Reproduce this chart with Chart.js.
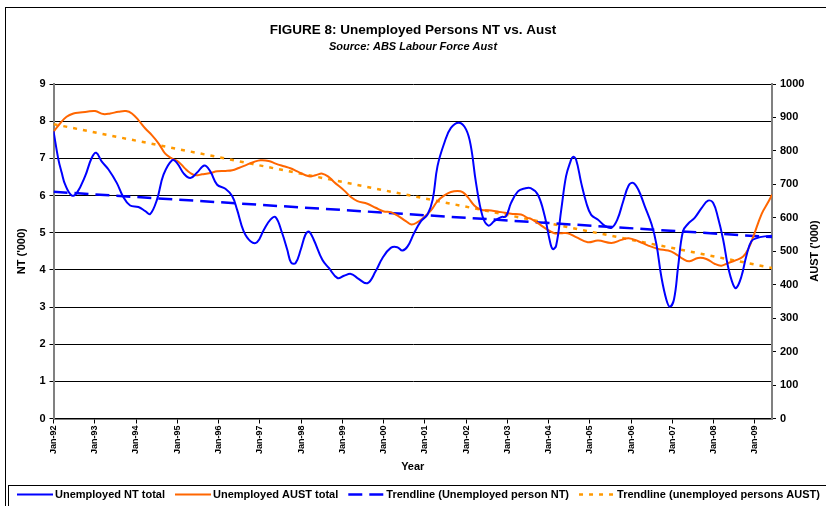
<!DOCTYPE html>
<html>
<head>
<meta charset="utf-8">
<title>FIGURE 8: Unemployed Persons NT vs. Aust</title>
<script src="https://cdn.jsdelivr.net/npm/chart.js@4/dist/chart.umd.min.js"></script>
<style>
	body { margin: 0; background: #fff; }
	canvas { display: block; }
</style>
</head>
<body>
<canvas id="graph" width="826" height="506"></canvas>
<script>
// == FIGURE 8: Unemployed Persons NT vs. Aust ==
// x values are months counted from Jan-92

const yearLabels = ['Jan-92', 'Jan-93', 'Jan-94', 'Jan-95', 'Jan-96', 'Jan-97', 'Jan-98', 'Jan-99', 'Jan-00',
	'Jan-01', 'Jan-02', 'Jan-03', 'Jan-04', 'Jan-05', 'Jan-06', 'Jan-07', 'Jan-08', 'Jan-09'];
const lastMonth = 209; // Jun-09

// Unemployed NT total ('000), left axis
const ntMonths = [0, 1.4, 2.4, 3.4, 5.3, 6.8, 9.2, 11.1, 12.4, 14, 16, 18.4, 20.2, 22.3, 24.7, 26.7, 28.1, 30.1,
	32, 34.5, 35.9, 37.9, 39.8, 41.7, 43.9, 45.6, 47.6, 50, 52, 53.4, 55.3, 57.3, 59.2, 61.2, 63.1, 64.6, 66.5,
	68, 69.1, 70.4, 71.9, 73.3, 74.3, 75.7, 78.2, 80.1, 82.6, 84.5, 86.5, 88.4, 91.3, 93.7, 95.7, 98.1, 100,
	101.5, 103, 104.9, 106.9, 108.8, 110.3, 111.7, 113.7, 115.6, 118, 120, 121.4, 122.9, 124.8, 126.5, 128.2,
	130.2, 131.6, 133.1, 135.1, 137, 138.8, 140.9, 142.9, 144.3, 145.2, 146.2, 147.7, 149.1, 150.4, 151.1, 152,
	153.5, 155, 156.4, 158.4, 160.3, 162.3, 164, 165.7, 167.3, 168.6, 170.1, 172, 174, 175.4, 176.8, 178.3,
	179.3, 180.5, 181.7, 183.1, 184.6, 186.5, 188.5, 190.4, 191.9, 193.3, 194.8, 196.2, 197.7, 198.6, 200.1,
	201.5, 203, 204.8, 206.9, 209];
const ntValues = [7.73, 6.98, 6.61, 6.29, 6.00, 6.07, 6.52, 7.01, 7.15, 6.92, 6.70, 6.34, 5.98, 5.73, 5.69, 5.58,
	5.50, 5.89, 6.56, 6.95, 6.88, 6.59, 6.47, 6.61, 6.81, 6.65, 6.29, 6.18, 5.98, 5.62, 5.04, 4.77, 4.74, 5.08,
	5.35, 5.42, 4.99, 4.54, 4.20, 4.18, 4.54, 4.95, 5.03, 4.81, 4.27, 4.05, 3.78, 3.84, 3.89, 3.78, 3.64, 3.96,
	4.32, 4.59, 4.61, 4.52, 4.63, 4.99, 5.31, 5.49, 5.89, 6.79, 7.42, 7.82, 7.96, 7.78, 7.33, 6.34, 5.44, 5.19,
	5.31, 5.42, 5.44, 5.80, 6.11, 6.19, 6.20, 6.02, 5.44, 4.81, 4.56, 4.65, 5.62, 6.52, 6.92, 7.04, 6.97, 6.34,
	5.80, 5.48, 5.35, 5.19, 5.13, 5.35, 5.84, 6.27, 6.34, 6.16, 5.71, 5.22, 4.68, 3.82, 3.19, 3.01, 3.21, 4.09,
	5.04, 5.24, 5.40, 5.66, 5.86, 5.80, 5.40, 4.81, 4.09, 3.60, 3.51, 3.82, 4.36, 4.77, 4.86, 4.90, 4.92];

// Unemployed AUST total ('000), right axis
const austMonths = [0, 1.9, 3.8, 5.8, 7.7, 9.7, 12.1, 14.5, 16.5, 18.9, 21.1, 22.8, 24.7, 26.7, 28.6, 30.6, 32.5,
	34.5, 36.4, 38.3, 39.8, 41.3, 43.2, 45.6, 47.6, 50, 52, 53.9, 56.3, 58.3, 60.2, 62.6, 64.6, 67, 68.9, 70.9,
	74.3, 76.2, 78.2, 80.1, 81.6, 84.5, 86.5, 88.4, 91.3, 93.7, 96.1, 98.1, 100, 102.5, 104.1, 105.9, 107.8,
	109.8, 111.7, 113.7, 115.6, 117.5, 119, 120.5, 122.4, 124.3, 127.3, 130.2, 133.1, 136, 137.9, 138.9, 140.9,
	143.3, 145.7, 147.7, 149.6, 152, 155.4, 158.4, 162.3, 165.2, 167.3, 170.1, 173, 175.9, 178.8, 180.7, 183.1,
	185, 187.5, 189.9, 192.4, 194.3, 196.3, 198.2, 200.6, 202.1, 203.5, 206, 207.9, 209];
const austValues = [857, 882, 902, 912, 915, 917, 919, 910, 912, 917, 919, 912, 892, 867, 847, 822, 792, 777, 767,
	747, 734, 727, 730, 734, 739, 740, 742, 749, 759, 767, 772, 770, 762, 754, 748, 739, 724, 727, 732, 722, 707,
	682, 662, 650, 642, 630, 619, 617, 607, 590, 580, 587, 602, 622, 650, 667, 677, 680, 677, 662, 637, 624, 622,
	617, 612, 610, 600, 597, 584, 567, 554, 554, 554, 542, 527, 532, 525, 534, 539, 530, 517, 507, 502, 494, 477,
	470, 480, 477, 462, 457, 465, 472, 484, 507, 542, 612, 647, 669];

// linear trendlines, value at Jan-92 and at Jun-09
const trendMonths = [0, lastMonth];
const ntTrend = [6.10, 4.88];
const austTrend = [880, 450];

const FONT = "'Liberation Sans', Arial, sans-serif";

function toPoints(xs, ys) {
	return xs.map(function(x, i) {
		return {x: x, y: ys[i]};
	});
}

// frame, legend box and right axis title
const decorations = {
	id: 'decorations',
	afterDraw(chart) {
		const ctx = chart.ctx;
		ctx.save();
		ctx.strokeStyle = '#000';
		ctx.lineWidth = 1;
		ctx.strokeRect(5.5, 7.5, 840, 520);
		ctx.strokeRect(8.5, 485.5, 840, 40);

		// legend
		ctx.font = 'bold 11px ' + FONT;
		ctx.textBaseline = 'middle';
		ctx.fillStyle = '#000';
		let x = 17;
		const y = 494.5;
		chart.data.datasets.forEach(function(ds) {
			ctx.beginPath();
			ctx.strokeStyle = ds.borderColor;
			ctx.lineWidth = ds.borderWidth;
			ctx.setLineDash(ds.borderDash || []);
			ctx.moveTo(x, y);
			ctx.lineTo(x + 36, y);
			ctx.stroke();
			ctx.setLineDash([]);
			x += 38;
			ctx.fillText(ds.label, x, y);
			x += ctx.measureText(ds.label).width + 10;
		});

		// right axis title reads bottom to top like the left one
		ctx.translate(815, 251);
		ctx.rotate(-Math.PI / 2);
		ctx.textAlign = 'center';
		ctx.fillText("AUST ('000)", 0, 0);
		ctx.restore();
	}
};

const whiteBackground = {
	id: 'whiteBackground',
	beforeDraw(chart) {
		const ctx = chart.ctx;
		ctx.save();
		ctx.fillStyle = '#fff';
		ctx.fillRect(0, 0, chart.width, chart.height);
		ctx.restore();
	}
};

Chart.defaults.font.family = FONT;
Chart.defaults.color = '#000';

const graphCtx = document.getElementById('graph').getContext('2d');
const chart = new Chart(graphCtx, {
	type: 'line',
	data: {
		datasets: [
			{
				label: 'Unemployed NT total',
				data: toPoints(ntMonths, ntValues),
				yAxisID: 'y',
				borderColor: '#0000FF',
				borderWidth: 2,
				pointRadius: 0,
				tension: 0.4,
				fill: false
			},
			{
				label: 'Unemployed AUST total',
				data: toPoints(austMonths, austValues),
				yAxisID: 'y2',
				borderColor: '#FF6600',
				borderWidth: 2,
				pointRadius: 0,
				tension: 0.4,
				fill: false
			},
			{
				label: 'Trendline (Unemployed person NT)',
				data: toPoints(trendMonths, ntTrend),
				yAxisID: 'y',
				borderColor: '#0000FF',
				borderWidth: 2.5,
				borderDash: [14, 7],
				pointRadius: 0,
				fill: false
			},
			{
				label: 'Trendline (unemployed persons AUST)',
				data: toPoints(trendMonths, austTrend),
				yAxisID: 'y2',
				borderColor: '#FF9900',
				borderWidth: 2.5,
				borderDash: [4, 6],
				pointRadius: 0,
				fill: false
			}
		]
	},
	options: {
		responsive: false,
		animation: false,
		devicePixelRatio: 1,
		layout: {padding: {left: 0, right: 0, top: 0, bottom: 22}},
		plugins: {
			legend: {display: false},
			tooltip: {enabled: false},
			title: {
				display: true,
				text: 'FIGURE 8: Unemployed Persons NT vs. Aust',
				font: {size: 13.5, weight: 'bold'},
				color: '#000',
				padding: {top: 22, bottom: 2}
			},
			subtitle: {
				display: true,
				text: 'Source: ABS Labour Force Aust',
				font: {size: 11, weight: 'bold', style: 'italic'},
				color: '#000',
				padding: {top: 0, bottom: 30.6}
			}
		},
		scales: {
			x: {
				type: 'linear',
				position: 'bottom',
				min: 0,
				max: lastMonth,
				afterFit: function(scale) { scale.height = 65.5; },
				ticks: {
					stepSize: 12,
					includeBounds: false,
					autoSkip: false,
					maxRotation: 90,
					minRotation: 90,
					padding: 2,
					font: {size: 9, weight: 'bold'},
					callback: function(value) {
						return yearLabels[Math.round(value / 12)];
					}
				},
				grid: {drawOnChartArea: false, color: '#000', tickLength: 5},
				border: {color: '#000', width: 1.5},
				title: {
					display: true,
					text: 'Year',
					font: {size: 11, weight: 'bold'},
					padding: {top: 0, bottom: 10}
				}
			},
			y: {
				position: 'left',
				min: 0,
				max: 9,
				afterFit: function(scale) { scale.width = 53.5; },
				ticks: {stepSize: 1, padding: 4, font: {size: 11, weight: 'bold'}},
				grid: {color: '#000', lineWidth: 1, tickLength: 4},
				border: {color: '#808080', width: 2},
				title: {
					display: true,
					text: "NT ('000)",
					font: {size: 11, weight: 'bold'},
					padding: {top: 15, bottom: 0}
				}
			},
			y2: {
				position: 'right',
				min: 0,
				max: 1000,
				afterFit: function(scale) { scale.width = 54; },
				ticks: {
					stepSize: 100,
					padding: 4,
					font: {size: 11, weight: 'bold'},
					callback: function(value) {
						return String(value);
					}
				},
				grid: {drawOnChartArea: false, color: '#000', tickLength: 4},
				border: {color: '#808080', width: 2}
			}
		}
	},
	plugins: [whiteBackground, decorations]
});
</script>
</body>
</html>
